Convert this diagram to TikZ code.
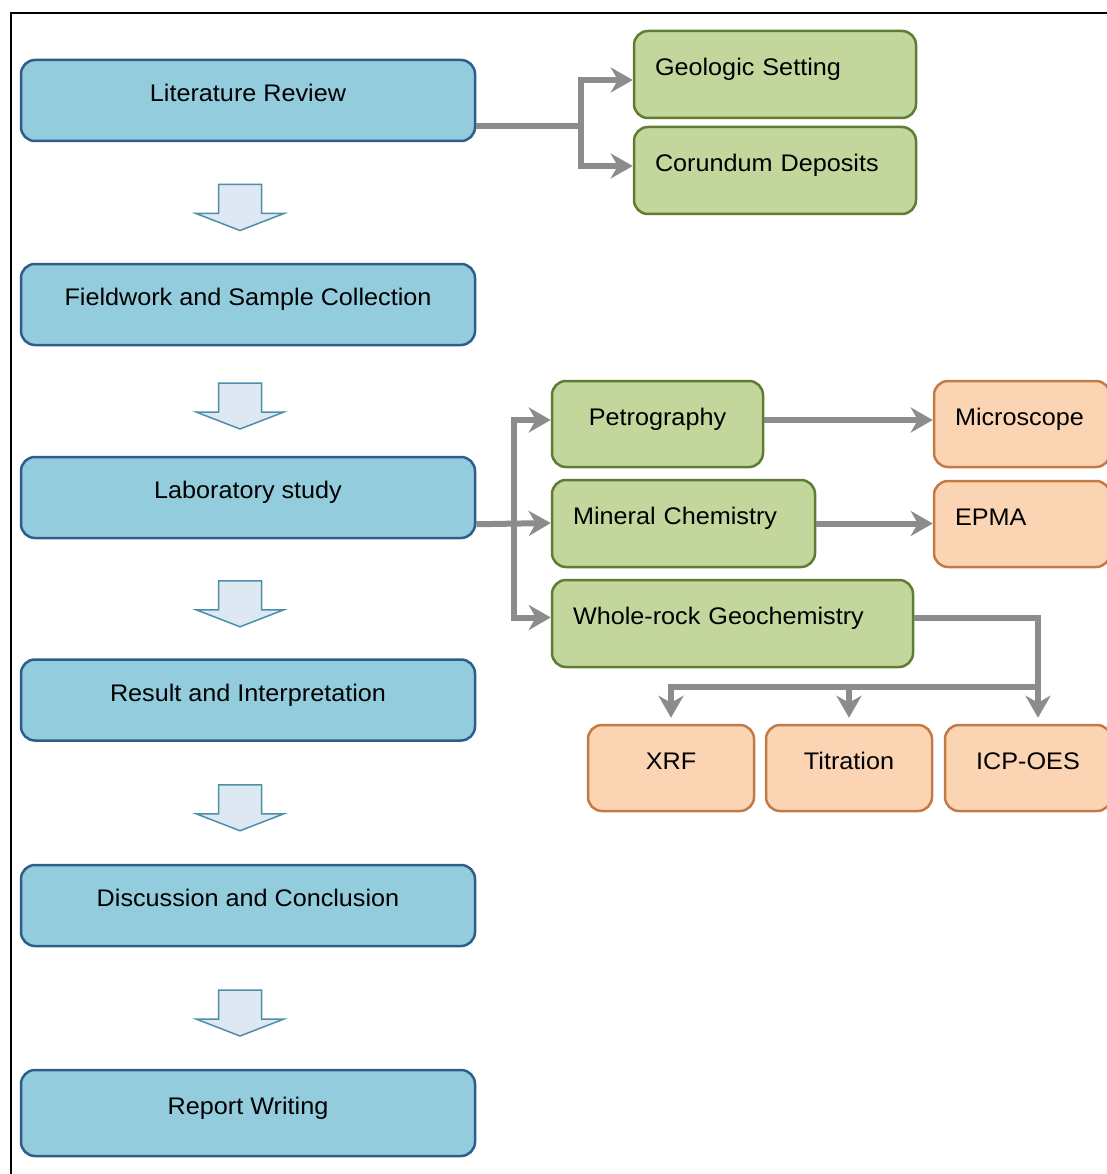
\documentclass[tikz,border=0pt]{standalone}
\usepackage{fontspec}
\setmainfont{Liberation Sans}[FakeStretch=1.05]
\usetikzlibrary{arrows.meta,calc}
\definecolor{bfill}{HTML}{93CDDD}
\definecolor{bdraw}{HTML}{2F5D8A}
\definecolor{gfill}{HTML}{C3D69B}
\definecolor{gdraw}{HTML}{5E7D33}
\definecolor{ofill}{HTML}{FBD4B4}
\definecolor{odraw}{HTML}{C47A45}
\definecolor{conncol}{HTML}{8C8C8C}
\definecolor{hfill}{HTML}{DDE8F3}
\definecolor{hdraw}{HTML}{4E8FA8}
\tikzset{
  basebox/.style={rounded corners=14pt, line width=2.5pt, inner xsep=21pt, inner ysep=0pt,
    text height=18pt, text depth=16pt, font=\fontsize{24pt}{28pt}\selectfont},
  bbox/.style={basebox, fill=bfill, draw=bdraw, minimum width=454pt, minimum height=81pt},
  gbox/.style={basebox, fill=gfill, draw=gdraw, minimum height=87pt},
  obox/.style={basebox, fill=ofill, draw=odraw, minimum height=86pt},
  conn/.style={draw=conncol, line width=6pt},
  arr/.style={-{Stealth[length=22pt,width=25pt,inset=7pt]}},
  hollow/.style={fill=hfill, draw=hdraw, line width=1.5pt, line join=miter}
}
\begin{document}
\begin{tikzpicture}[x=1pt,y=-1pt]
\useasboundingbox (0,0) rectangle (1107,1174);
\clip (0,0) rectangle (1107,1174);
\fill[white] (0,0) rectangle (1107,1174);
\draw[line width=2pt] (11,1174) -- (11,13) -- (1107,13);

% main column
\node[bbox] (lit) at (248,100.5) {Literature Review};
\node[bbox] (field) at (248,304.5) {Fieldwork and Sample Collection};
\node[bbox] (lab) at (248,497.5) {Laboratory study};
\node[bbox] (res) at (248,700) {Result and Interpretation};
\node[bbox] (disc) at (248,905.5) {Discussion and Conclusion};
\node[bbox, minimum height=86pt] (rep) at (248,1113) {Report Writing};

% green boxes
\node[gbox, minimum width=282pt, text width=240pt, align=left] (geo) at (775,74.5) {Geologic Setting};
\node[gbox, minimum width=282pt, text width=240pt, align=left] (cor) at (775,170.5) {Corundum Deposits};
\node[gbox, minimum width=211pt, minimum height=86pt, align=center] (petro) at (657.5,424) {Petrography};
\node[gbox, minimum width=263pt, text width=221pt, align=left] (min) at (683.5,523.5) {Mineral Chemistry};
\node[gbox, minimum width=361pt, text width=319pt, align=left] (whole) at (732.5,623.5) {Whole-rock Geochemistry};

% orange boxes
\node[obox, minimum width=176pt, text width=134pt, align=left] (micro) at (1022,424) {Microscope};
\node[obox, minimum width=176pt, text width=134pt, align=left] (epma) at (1022,524) {EPMA};
\node[obox, minimum width=166pt, align=center] (xrf) at (671,768) {XRF};
\node[obox, minimum width=166pt, align=center] (tit) at (849,768) {Titration};
\node[obox, minimum width=166pt, align=center] (icp) at (1028,768) {ICP-OES};

% hollow arrows
\foreach \a/\b in {lit/field,field/lab,lab/res,res/disc,disc/rep}{
  \coordinate (m) at ($($(\a.south)!0.5!(\b.north)$)+(-8,0)$);
  \draw[hollow] ($(m)+(-21.5,-18)$) -- ($(m)+(21.5,-18)$) -- ($(m)+(21.5,11)$)
    -- ($(m)+(44,11)$) -- ($(m)+(0,28)$) -- ($(m)+(-44,11)$) -- ($(m)+(-21.5,11)$) -- cycle;
}

% literature branch
\coordinate (b1) at ($(lit.south east)+(105,-16)$);
\draw[conn] ($(lit.south east)+(0,-16)$) -- (b1);
\draw[conn,arr] (b1) |- ($(geo.west)+(0,5.5)$);
\draw[conn,arr] (b1) |- ($(cor.west)+(0,-4.5)$);

% laboratory branch
\coordinate (b2) at ($(lab.south east)+(38,-15)$);
\draw[conn,arr] ($(lab.south east)+(0,-15)$) -- ($(min.west)+(0,-0.5)$);
\draw[conn,arr] (b2) |- ($(petro.west)+(0,-4)$);
\draw[conn,arr] (b2) |- ($(whole.west)+(0,-6)$);

\draw[conn,arr] ($(petro.east)+(0,-4)$) -- ($(micro.west)+(0,-4)$);
\draw[conn,arr] (min.east) -- (min.east -| epma.west);

% whole-rock branch
\coordinate (h) at ($(icp.north)+(10,-37)$);
\draw[conn,arr,shorten >=6pt] ($(whole.east)+(0,-6)$) -| ($(icp.north)+(10,0)$);
\draw[conn] (h) -- ($(xrf.north |- h)+(-3,0)$);
\draw[conn,arr,shorten >=6pt] (xrf.north |- h) -- (xrf.north);
\draw[conn,arr,shorten >=6pt] (tit.north |- h) -- (tit.north);
\end{tikzpicture}
\end{document}
